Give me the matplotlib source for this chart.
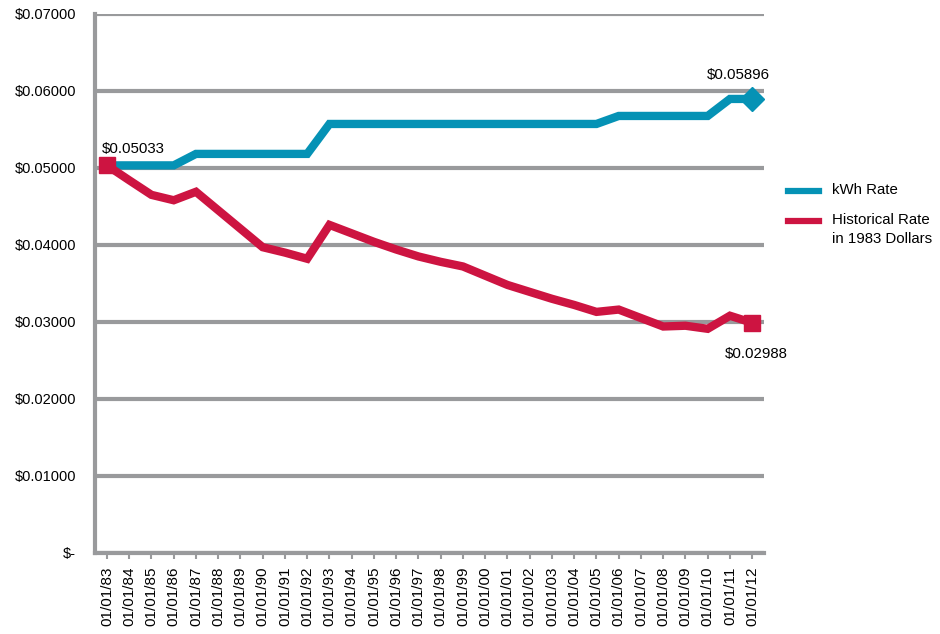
import matplotlib.pyplot as plt
from matplotlib.lines import Line2D
from matplotlib.ticker import FuncFormatter

plt.rcParams['font.family'] = ['Liberation Sans', 'DejaVu Sans']

#data
years = ['83', '84', '85', '86', '87', '88', '89', '90', '91', '92', '93', '94', '95', '96', '97',
         '98', '99', '00', '01', '02', '03', '04', '05', '06', '07', '08', '09', '10', '11', '12']
dates = ['01/01/' + y for y in years]
kwhRate = [0.05033, 0.05033, 0.05033, 0.05033, 0.05182, 0.05182, 0.05182, 0.05182, 0.05182, 0.05182,
           0.05571, 0.05571, 0.05571, 0.05571, 0.05571, 0.05571, 0.05571, 0.05571, 0.05571, 0.05571,
           0.05571, 0.05571, 0.05571, 0.05675, 0.05675, 0.05675, 0.05675, 0.05675, 0.05896, 0.05896]
histRate = [0.05033, 0.0484, 0.0465, 0.0458, 0.0469, 0.0445, 0.0421, 0.0397, 0.0390, 0.0382,
            0.0426, 0.0415, 0.0404, 0.0394, 0.0385, 0.0378, 0.0372, 0.0360, 0.0348, 0.0339,
            0.0330, 0.0322, 0.0313, 0.0316, 0.0305, 0.0294, 0.0295, 0.0291, 0.0308, 0.02988]
legendLabels = ['kWh Rate', 'Historical Rate\nin 1983 Dollars']

blue = '#0592b5'
red = '#cd1441'
grey = '#999a9c'

fig = plt.figure(figsize=(9.4, 6.34), dpi=100)
ax = fig.add_axes([0.101, 0.128, 0.712, 0.850])

x = list(range(len(dates)))
ax.plot(x, kwhRate, color=blue, lw=6, solid_joinstyle='miter', zorder=3)
ax.plot(x, histRate, color=red, lw=6, solid_joinstyle='miter', zorder=3)
ax.plot(x[-1], kwhRate[-1], marker='D', ms=12, color=blue, mec=blue, zorder=4)
ax.plot(x[-1], histRate[-1], marker='s', ms=12, color=red, mec=red, zorder=4)
ax.plot(x[0], histRate[0], marker='s', ms=12, color=red, mec=red, zorder=4)

ax.annotate('$0.05033', (x[0], kwhRate[0]), xytext=(-4, 9), textcoords='offset points', fontsize=10.8)
ax.annotate('$0.05896', (x[-1], kwhRate[-1]), xytext=(-33, 14), textcoords='offset points', fontsize=10.8)
ax.annotate('$0.02988', (x[-1], histRate[-1]), xytext=(-20, -25), textcoords='offset points', fontsize=10.8)

ax.set_xlim(-0.54, 29.54)
ax.set_ylim(0, 0.07)
ax.set_yticks([i / 100 for i in range(8)])
ax.yaxis.set_major_formatter(FuncFormatter(lambda v, p: '$-' if v == 0 else '${:.5f}'.format(v)))
ax.set_xticks(x)
ax.set_xticklabels(dates, rotation=90, fontsize=11)
ax.tick_params(axis='y', length=0, pad=13.5, labelsize=10.5)
ax.tick_params(axis='x', length=4, width=1.5, color=grey, pad=6)

ax.grid(axis='y', color=grey, lw=3)
ax.set_axisbelow(True)
for s in ['top', 'right']:
	ax.spines[s].set_visible(False)
ax.spines['left'].set_color(grey)
ax.spines['left'].set_linewidth(3)
ax.spines['bottom'].set_color(grey)
ax.spines['bottom'].set_linewidth(3)

# legend, drawn by hand so the red swatch sits on the first text line
for i, (lab, col) in enumerate(zip(legendLabels, [blue, red])):
	yy = 1 - (191 + 30 * i) / 634
	fig.add_artist(Line2D([788 / 940, 819 / 940], [yy, yy], color=col, lw=4.5, transform=fig.transFigure))
	fig.text(832 / 940, yy + 8 / 634, lab, fontsize=10.8, va='top', linespacing=1.45)

fig.savefig('out.png', dpi=100)
